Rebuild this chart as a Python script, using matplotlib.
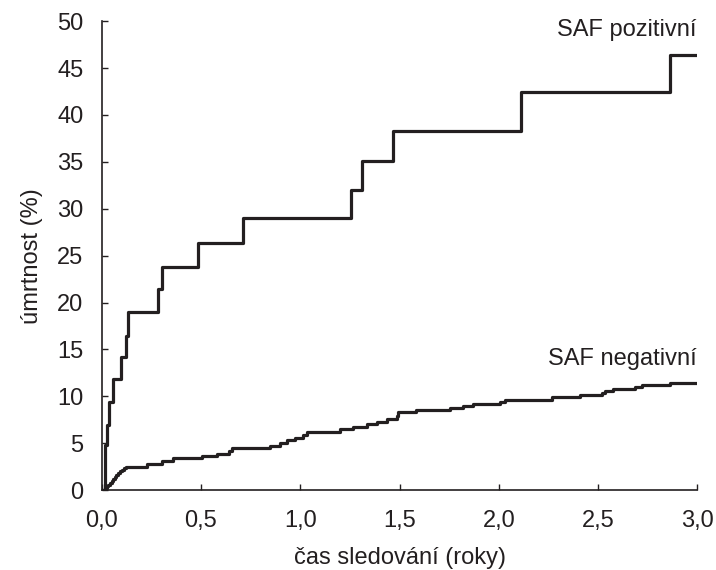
import matplotlib.pyplot as plt
import matplotlib.ticker as ticker

plt.rcParams['font.family'] = ['Liberation Sans', 'DejaVu Sans']
plt.rcParams.update({'font.size': 17})

# SAF pozitivní - step times (years) and mortality (%)
pos_t = [0.0, 0.017, 0.025, 0.038, 0.055, 0.097, 0.122, 0.131, 0.285, 0.302,
         0.486, 0.713, 1.254, 1.309, 1.468, 2.11, 2.862, 3.0]
pos_y = [0.0, 4.8, 7.0, 9.4, 11.8, 14.2, 16.4, 19.0, 21.4, 23.8,
         26.4, 29.0, 32.0, 35.1, 38.3, 42.4, 46.4, 46.4]

# SAF negativní
neg_t = [0.01, 0.018, 0.026, 0.034, 0.042, 0.05, 0.058, 0.066, 0.074, 0.082,
         0.09, 0.1, 0.11, 0.12, 0.227,
         0.302, 0.357, 0.504, 0.579, 0.643, 0.655, 0.847, 0.898, 0.932, 0.973,
         1.015, 1.035, 1.2, 1.267, 1.334, 1.385, 1.435, 1.485, 1.493, 1.583,
         1.754, 1.821, 1.871, 2.005, 2.031, 2.266, 2.408, 2.518, 2.535, 2.576,
         2.685, 2.719, 2.862, 3.0]
neg_y = [0.0, 0.2, 0.4, 0.6, 0.8, 1.0, 1.2, 1.4, 1.6, 1.8,
         2.0, 2.2, 2.4, 2.5, 2.8,
         3.1, 3.4, 3.65, 3.9, 4.2, 4.45, 4.7, 5.0, 5.3, 5.6,
         5.85, 6.15, 6.5, 6.75, 7.05, 7.3, 7.6, 7.95, 8.35, 8.55,
         8.8, 9.0, 9.2, 9.45, 9.6, 9.9, 10.15, 10.4, 10.6, 10.8,
         11.0, 11.2, 11.4, 11.4]

line_color = '#231f20'

fig = plt.figure(figsize=(7.16, 5.70), dpi=100)
ax = fig.add_axes([0.142, 0.14, 0.832, 0.823])

ax.plot(pos_t, pos_y, drawstyle='steps-post', color=line_color, lw=2.3)
ax.plot(neg_t, neg_y, drawstyle='steps-post', color=line_color, lw=2.3)

ax.text(2.995, 49.0, 'SAF pozitivní', ha='right', va='center', color=line_color)
ax.text(2.995, 14.0, 'SAF negativní', ha='right', va='center', color=line_color)

ax.set_xlim(0, 3.0)
ax.set_ylim(0, 50)
ax.xaxis.set_major_locator(ticker.MultipleLocator(0.5))
ax.yaxis.set_major_locator(ticker.MultipleLocator(5))
ax.xaxis.set_major_formatter(ticker.FuncFormatter(lambda v, p: f'{v:.1f}'.replace('.', ',')))

for side in ['top', 'right']:
    ax.spines[side].set_visible(False)
for side in ['left', 'bottom']:
    ax.spines[side].set_color(line_color)
    ax.spines[side].set_linewidth(1.2)

ax.tick_params(axis='both', direction='in', length=4, width=1, color=line_color, labelcolor=line_color)
ax.tick_params(axis='x', pad=14)
ax.tick_params(axis='y', pad=13)

ax.set_xlabel('čas sledování (roky)', color=line_color, labelpad=11)
ax.set_ylabel('úmrtnost (%)', color=line_color, labelpad=10)

fig.savefig('out.png', dpi=100)
